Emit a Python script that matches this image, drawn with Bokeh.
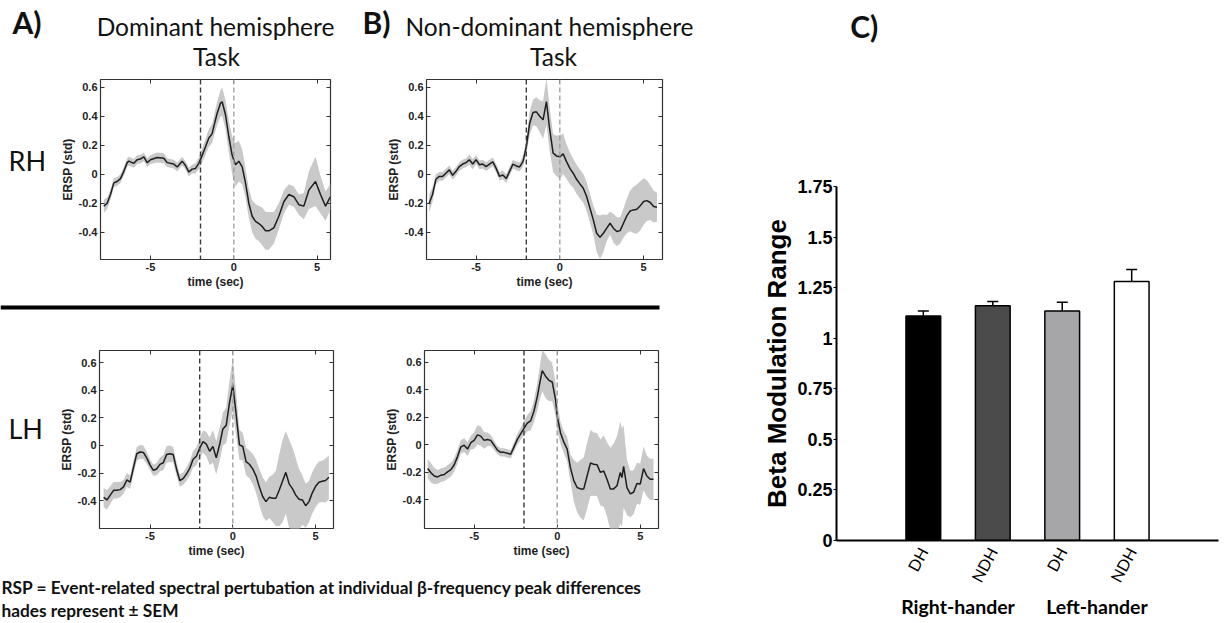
from bokeh.plotting import figure
from bokeh.models import (Range1d, FactorRange, FixedTicker, LinearAxis, CustomJSTickFormatter,
                          Span, Whisker, TeeHead, ColumnDataSource)
from bokeh.layouts import row, column
from bokeh.core.properties import value
from bokeh.embed import file_html
from bokeh.resources import INLINE

# ---------------- data ----------------
CUE_T = -2.0
MOVE_T = 0.0
ERSP_XTICKS = [-5, 0, 5]
ERSP_YTICKS = [-0.4, -0.2, 0, 0.2, 0.4, 0.6]

# A) dominant hemisphere, right-handers
t_a_rh = [-7.8, -7.6, -7.4, -7.2, -7.0, -6.8, -6.6, -6.4, -6.3, -6.0, -5.8, -5.6, -5.4, -5.2, -5.0,
          -4.6, -4.2, -4.0, -3.6, -3.4, -3.1, -2.9, -2.7, -2.5, -2.3, -2.1, -1.9, -1.7, -1.5, -1.3,
          -1.2, -1.0, -0.8, -0.7, -0.5, -0.3, -0.1, 0.1, 0.3, 0.5, 0.7, 0.9, 1.1, 1.3, 1.5,
          1.7, 1.9, 2.1, 2.4, 2.7, 3.0, 3.3, 3.6, 3.9, 4.2, 4.5, 4.9, 5.2, 5.5, 5.8]
m_a_rh = [-0.22, -0.20, -0.14, -0.06, -0.05, -0.03, 0.02, 0.08, 0.09, 0.075, 0.10, 0.105, 0.12, 0.08, 0.10,
          0.115, 0.11, 0.08, 0.07, 0.05, 0.09, 0.06, 0.015, 0.035, 0.04, 0.075, 0.13, 0.19, 0.25, 0.28,
          0.33, 0.42, 0.49, 0.50, 0.41, 0.26, 0.13, 0.065, 0.09, 0.05, -0.06, -0.20, -0.29, -0.325, -0.34,
          -0.36, -0.39, -0.39, -0.37, -0.29, -0.19, -0.14, -0.155, -0.21, -0.22, -0.11, -0.05, -0.14, -0.22, -0.155]
s_a_rh = [0.045, 0.04, 0.035, 0.03, 0.03, 0.03, 0.03, 0.03, 0.03, 0.03, 0.03, 0.03, 0.03, 0.03, 0.03,
          0.035, 0.035, 0.03, 0.03, 0.03, 0.03, 0.03, 0.03, 0.03, 0.035, 0.04, 0.05, 0.055, 0.06, 0.065,
          0.07, 0.08, 0.09, 0.10, 0.10, 0.11, 0.13, 0.15, 0.14, 0.12, 0.10, 0.10, 0.11, 0.12, 0.12,
          0.13, 0.13, 0.13, 0.11, 0.09, 0.08, 0.07, 0.07, 0.07, 0.09, 0.13, 0.17, 0.13, 0.10, 0.09]

# B) non-dominant hemisphere, right-handers
t_b_rh = [-7.8, -7.6, -7.4, -7.2, -7.0, -6.8, -6.6, -6.4, -6.2, -6.0, -5.8, -5.6, -5.4, -5.2, -5.0,
          -4.8, -4.6, -4.4, -4.2, -4.0, -3.8, -3.6, -3.4, -3.2, -3.0, -2.8, -2.6, -2.4, -2.2, -2.0,
          -1.8, -1.6, -1.4, -1.2, -1.0, -0.8, -0.6, -0.4, -0.2, 0.0, 0.2, 0.4, 0.6, 0.8, 1.0,
          1.2, 1.4, 1.6, 1.8, 2.0, 2.2, 2.4, 2.6, 2.8, 3.0, 3.2, 3.4, 3.6, 3.8, 4.0,
          4.2, 4.4, 4.6, 4.8, 5.0, 5.2, 5.4, 5.6, 5.8]
m_b_rh = [-0.20, -0.14, -0.035, -0.015, -0.015, 0.007, 0.03, -0.007, 0.02, 0.053, 0.07, 0.08, 0.10, 0.07, 0.10,
          0.065, 0.07, 0.053, 0.07, 0.085, 0.04, -0.015, -0.005, -0.03, 0.02, 0.07, 0.057, 0.05, 0.087, 0.19,
          0.35, 0.425, 0.43, 0.40, 0.375, 0.50, 0.305, 0.145, 0.126, 0.12, 0.14, 0.087, 0.04, 0.007, -0.035,
          -0.067, -0.097, -0.154, -0.235, -0.315, -0.407, -0.434, -0.407, -0.372, -0.338, -0.372, -0.395, -0.389, -0.338, -0.287,
          -0.253, -0.246, -0.241, -0.218, -0.188, -0.182, -0.195, -0.223, -0.228]
s_b_rh = [0.06, 0.05, 0.035, 0.03, 0.03, 0.03, 0.03, 0.03, 0.03, 0.03, 0.03, 0.03, 0.035, 0.035, 0.03,
          0.03, 0.03, 0.03, 0.03, 0.03, 0.03, 0.03, 0.03, 0.03, 0.03, 0.03, 0.03, 0.03, 0.035, 0.05,
          0.08, 0.09, 0.10, 0.11, 0.13, 0.16, 0.15, 0.13, 0.14, 0.15, 0.14, 0.12, 0.11, 0.10, 0.10,
          0.10, 0.10, 0.10, 0.10, 0.10, 0.13, 0.15, 0.13, 0.09, 0.08, 0.10, 0.10, 0.09, 0.10, 0.12,
          0.14, 0.16, 0.17, 0.17, 0.16, 0.14, 0.12, 0.11, 0.10]

# A) dominant hemisphere, left-handers
t_a_lh = [-7.8, -7.6, -7.4, -7.2, -7.0, -6.8, -6.6, -6.4, -6.2, -6.0, -5.8, -5.6, -5.4, -5.2, -5.0,
          -4.8, -4.6, -4.4, -4.2, -4.0, -3.8, -3.6, -3.4, -3.2, -3.0, -2.8, -2.6, -2.4, -2.2, -2.0,
          -1.8, -1.6, -1.4, -1.2, -1.0, -0.8, -0.6, -0.4, -0.2, 0.0, 0.2, 0.4, 0.6, 0.8, 1.0,
          1.2, 1.4, 1.6, 1.8, 2.0, 2.2, 2.4, 2.6, 2.8, 3.0, 3.2, 3.4, 3.6, 3.8, 4.0,
          4.2, 4.4, 4.6, 4.8, 5.0, 5.2, 5.4, 5.6, 5.8]
m_a_lh = [-0.376, -0.395, -0.36, -0.325, -0.325, -0.32, -0.30, -0.25, -0.266, -0.16, -0.06, -0.047, -0.05, -0.09, -0.14,
          -0.18, -0.17, -0.137, -0.125, -0.066, -0.06, -0.066, -0.17, -0.254, -0.24, -0.207, -0.165, -0.10, -0.078, -0.02,
          0.028, 0.01, -0.042, -0.007, -0.09, 0.005, 0.12, 0.146, 0.31, 0.44, 0.228, 0.005, -0.007, -0.117, -0.136,
          -0.17, -0.22, -0.30, -0.37, -0.407, -0.376, -0.383, -0.383, -0.325, -0.26, -0.195, -0.278, -0.313, -0.36, -0.39,
          -0.395, -0.437, -0.407, -0.343, -0.296, -0.266, -0.26, -0.254, -0.23]
s_a_lh = [0.07, 0.07, 0.065, 0.06, 0.06, 0.055, 0.05, 0.05, 0.05, 0.05, 0.05, 0.05, 0.05, 0.045, 0.04,
          0.04, 0.045, 0.05, 0.055, 0.06, 0.06, 0.055, 0.05, 0.045, 0.045, 0.05, 0.055, 0.06, 0.065, 0.07,
          0.08, 0.09, 0.10, 0.12, 0.12, 0.12, 0.12, 0.13, 0.16, 0.19, 0.16, 0.11, 0.10, 0.10, 0.10,
          0.11, 0.12, 0.13, 0.14, 0.14, 0.15, 0.17, 0.20, 0.26, 0.30, 0.30, 0.32, 0.30, 0.27, 0.22,
          0.18, 0.16, 0.15, 0.15, 0.15, 0.15, 0.15, 0.16, 0.16]

# B) non-dominant hemisphere, left-handers
t_b_lh = [-7.8, -7.6, -7.4, -7.2, -7.0, -6.8, -6.6, -6.4, -6.2, -6.0, -5.8, -5.6, -5.4, -5.2, -5.0,
          -4.8, -4.6, -4.4, -4.2, -4.0, -3.8, -3.6, -3.4, -3.2, -3.0, -2.8, -2.6, -2.4, -2.2, -2.0,
          -1.8, -1.6, -1.4, -1.2, -1.0, -0.9, -0.7, -0.5, -0.3, -0.1, 0.0, 0.2, 0.4, 0.6, 0.8,
          1.0, 1.2, 1.4, 1.6, 1.8, 2.0, 2.2, 2.4, 2.6, 2.8, 3.0, 3.2, 3.4, 3.6, 3.8, 3.9,
          4.0, 4.2, 4.4, 4.6, 4.8, 5.0, 5.2, 5.4, 5.6, 5.8]
m_b_lh = [-0.172, -0.203, -0.226, -0.233, -0.22, -0.215, -0.196, -0.18, -0.144, -0.085, -0.014, -0.002, -0.03, 0.016, 0.033,
          0.073, 0.064, 0.033, 0.04, 0.033, -0.002, -0.038, -0.054, -0.054, -0.061, -0.068, -0.014, 0.04, 0.08, 0.12,
          0.158, 0.175, 0.245, 0.35, 0.48, 0.54, 0.50, 0.47, 0.458, 0.33, 0.21, 0.087, 0.02, -0.03, -0.167,
          -0.26, -0.31, -0.32, -0.32, -0.226, -0.132, -0.14, -0.144, -0.20, -0.19, -0.25, -0.32, -0.32, -0.297, -0.20, -0.238,
          -0.156, -0.31, -0.356, -0.344, -0.28, -0.285, -0.172, -0.226, -0.25, -0.25]
s_b_lh = [0.07, 0.07, 0.06, 0.05, 0.05, 0.05, 0.05, 0.05, 0.05, 0.05, 0.05, 0.05, 0.05, 0.05, 0.06,
          0.07, 0.07, 0.06, 0.05, 0.04, 0.035, 0.03, 0.03, 0.03, 0.03, 0.03, 0.035, 0.04, 0.045, 0.05,
          0.06, 0.07, 0.08, 0.10, 0.13, 0.15, 0.16, 0.15, 0.14, 0.12, 0.10, 0.08, 0.08, 0.09, 0.10,
          0.15, 0.18, 0.21, 0.23, 0.24, 0.24, 0.23, 0.23, 0.24, 0.26, 0.27, 0.30, 0.33, 0.36, 0.37, 0.36,
          0.30, 0.20, 0.17, 0.16, 0.15, 0.15, 0.16, 0.15, 0.15, 0.15]

# C) beta modulation range
hander_groups = ["Right-hander", "Left-hander"]
hemispheres = ["DH", "NDH"]
beta_mean = [1.11, 1.16, 1.135, 1.28]
beta_sem = [0.024, 0.021, 0.043, 0.06]
bar_colors = ["#000000", "#4b4b4b", "#a6a6a9", "#ffffff"]
beta_ticks = [0, 0.25, 0.5, 0.75, 1, 1.25, 1.5, 1.75]

TITLE_FONT = "Lato"
AX_FONT = "Liberation Sans"


def canvas(w, h):
    p = figure(width=w, height=h, x_range=Range1d(0, w), y_range=Range1d(h, 0),
               x_axis_type=None, y_axis_type=None, output_backend="svg",
               toolbar_location=None, min_border=0, title=None)
    p.outline_line_color = None
    return p


def put_text(p, x, y, txt, size, bold=False, align="left"):
    p.text(x=[x], y=[y], text=[txt], text_font=value(TITLE_FONT), text_font_size=size,
           text_font_style="bold" if bold else "normal", text_align=align,
           text_baseline="alphabetic", text_color="#111111")


xfmt = CustomJSTickFormatter(code="return Math.abs(tick) < 1e-9 ? '0' : String(tick);")
yfmt = CustomJSTickFormatter(code="const v = Math.round(tick*10)/10; return Math.abs(v) < 1e-9 ? '0' : v.toFixed(1);")
nofmt = CustomJSTickFormatter(code="return '';")


def ersp_panel(t, m, s, xr, yr, w, h, left, right, top, bottom):
    p = figure(width=w, height=h, x_range=Range1d(*xr), y_range=Range1d(*yr),
               output_backend="svg", toolbar_location=None, title=None,
               min_border_left=left, min_border_right=right,
               min_border_top=top, min_border_bottom=bottom)
    lo = [a - b for a, b in zip(m, s)]
    hi = [a + b for a, b in zip(m, s)]
    p.varea(x=t, y1=lo, y2=hi, fill_color="#c9c9c9")
    p.line(t, m, line_color="#1e1e1e", line_width=1.5)
    p.add_layout(Span(location=CUE_T, dimension="height", line_color="#3a3a3a",
                      line_dash="5 3", line_width=1.4))
    p.add_layout(Span(location=MOVE_T, dimension="height", line_color="#a0a0a0",
                      line_dash="5 3", line_width=1.4))
    p.grid.visible = False
    p.outline_line_color = "#333333"
    p.outline_line_width = 1.2
    p.xaxis.ticker = FixedTicker(ticks=ERSP_XTICKS)
    p.yaxis.ticker = FixedTicker(ticks=ERSP_YTICKS)
    p.xaxis.formatter = xfmt
    p.yaxis.formatter = yfmt
    p.xaxis.axis_label = "time (sec)"
    p.yaxis.axis_label = "ERSP (std)"
    for ax in (p.xaxis[0], p.yaxis[0]):
        ax.axis_line_color = None
        ax.major_tick_in = 4
        ax.major_tick_out = 0
        ax.minor_tick_line_color = None
        ax.major_tick_line_color = "#333333"
        ax.major_label_text_font = AX_FONT
        ax.major_label_text_font_style = "bold"
        ax.major_label_text_font_size = "11px"
        ax.major_label_text_color = "#222222"
        ax.major_label_standoff = 3
        ax.axis_label_text_font = AX_FONT
        ax.axis_label_text_font_style = "bold"
        ax.axis_label_text_font_size = "12px"
        ax.axis_label_text_color = "#222222"
        ax.axis_label_standoff = 1
    for loc, ticks in (("above", ERSP_XTICKS), ("right", ERSP_YTICKS)):
        ax = LinearAxis(ticker=FixedTicker(ticks=ticks), formatter=nofmt,
                        major_label_text_font_size="1px",
                        major_label_standoff=0, major_tick_in=4, major_tick_out=0,
                        minor_tick_line_color=None, axis_line_color=None,
                        major_tick_line_color="#333333")
        p.add_layout(ax, loc)
    return p


# ---------------- left block ----------------
header = canvas(720, 70)
put_text(header, 12, 21, "A)", "30px", bold=True)
put_text(header, 215, 26, "Dominant hemisphere", "24.5px", align="center")
put_text(header, 216, 56, "Task", "24.5px", align="center")
put_text(header, 362, 21, "B)", "30px", bold=True)
put_text(header, 549, 26, "Non-dominant hemisphere", "24.5px", align="center")
put_text(header, 553, 56, "Task", "24.5px", align="center")

rh_lab = canvas(55, 230)
put_text(rh_lab, 8, 104, "RH", "27px")
lh_lab = canvas(55, 250)
put_text(lh_lab, 8, 109, "LH", "27px")

p_a_rh = ersp_panel(t_a_rh, m_a_rh, s_a_rh, (-8.0, 5.8), (-0.588, 0.653), 307, 230, 45, 32, 9, 41)
p_b_rh = ersp_panel(t_b_rh, m_b_rh, s_b_rh, (-7.96, 6.13), (-0.588, 0.653), 358, 230, 64, 58, 9, 41)
p_a_lh = ersp_panel(t_a_lh, m_a_lh, s_a_lh, (-8.05, 6.08), (-0.602, 0.689), 307, 250, 44, 29, 30, 37)
p_b_lh = ersp_panel(t_b_lh, m_b_lh, s_b_lh, (-7.99, 6.1), (-0.608, 0.687), 358, 250, 62, 62, 35, 33)

divider = canvas(720, 15)
divider.segment(x0=[0], y0=[7], x1=[659], y1=[7], line_color="black", line_width=4)

footer = canvas(720, 58)
put_text(footer, 1, 22, "RSP = Event-related spectral pertubation at individual \u03b2-frequency peak differences",
         "17.3px", bold=True)
put_text(footer, 1, 45, "hades represent \u00b1 SEM", "17.3px", bold=True)

left_block = column(header,
                    row(rh_lab, p_a_rh, p_b_rh, spacing=0),
                    divider,
                    row(lh_lab, p_a_lh, p_b_lh, spacing=0),
                    footer, spacing=0)

# ---------------- right block ----------------
c_head = canvas(504, 150)
put_text(c_head, 18, 25, "C)", "30px", bold=True)

factors = [(g, h) for g in hander_groups for h in hemispheres]
src = ColumnDataSource(dict(x=factors, top=beta_mean,
                            upper=[a + b for a, b in zip(beta_mean, beta_sem)],
                            color=bar_colors))
p_c = figure(width=504, height=473,
             x_range=FactorRange(factors=factors, group_padding=0, range_padding=0.75,
                                 range_padding_units="absolute"),
             y_range=Range1d(0, 1.75), output_backend="svg", toolbar_location=None, title=None,
             min_border_left=116, min_border_right=6, min_border_top=36, min_border_bottom=83)
p_c.vbar(x="x", top="top", width=0.5, source=src, fill_color="color",
         line_color="black", line_width=1.5)
p_c.add_layout(Whisker(source=src, base="x", upper="upper", lower="top",
                       upper_head=TeeHead(size=11, line_width=1.5, line_color="black"),
                       lower_head=None, line_width=1.5, line_color="black"))
p_c.grid.visible = False
p_c.outline_line_color = None
ya = p_c.yaxis[0]
ya.ticker = FixedTicker(ticks=beta_ticks)
ya.formatter = CustomJSTickFormatter(code="return String(Math.round(tick*100)/100);")
ya.axis_label = "Beta Modulation Range"
ya.axis_label_text_font = AX_FONT
ya.axis_label_text_font_style = "bold"
ya.axis_label_text_font_size = "26px"
ya.axis_label_text_color = "black"
ya.axis_label_standoff = 2
ya.major_label_text_font = AX_FONT
ya.major_label_text_font_style = "bold"
ya.major_label_text_font_size = "18px"
ya.major_label_text_color = "black"
ya.major_tick_in = 0
ya.major_tick_out = 3
ya.major_label_standoff = 1
ya.minor_tick_line_color = None
ya.axis_line_width = 2
xa = p_c.xaxis[0]
xa.axis_line_width = 2
xa.major_tick_line_color = None
xa.major_label_orientation = 1.08
xa.major_label_standoff = 2
xa.major_label_text_font = TITLE_FONT
xa.major_label_text_font_size = "16px"
xa.major_label_text_color = "black"
xa.group_text_font = TITLE_FONT
xa.group_text_font_style = "bold"
xa.group_text_font_size = "19.5px"
xa.group_text_color = "black"
xa.separator_line_color = None

right_block = column(c_head, p_c, spacing=0)

root = row(left_block, right_block, spacing=0)
open("out.html", "w").write(file_html(root, INLINE))
